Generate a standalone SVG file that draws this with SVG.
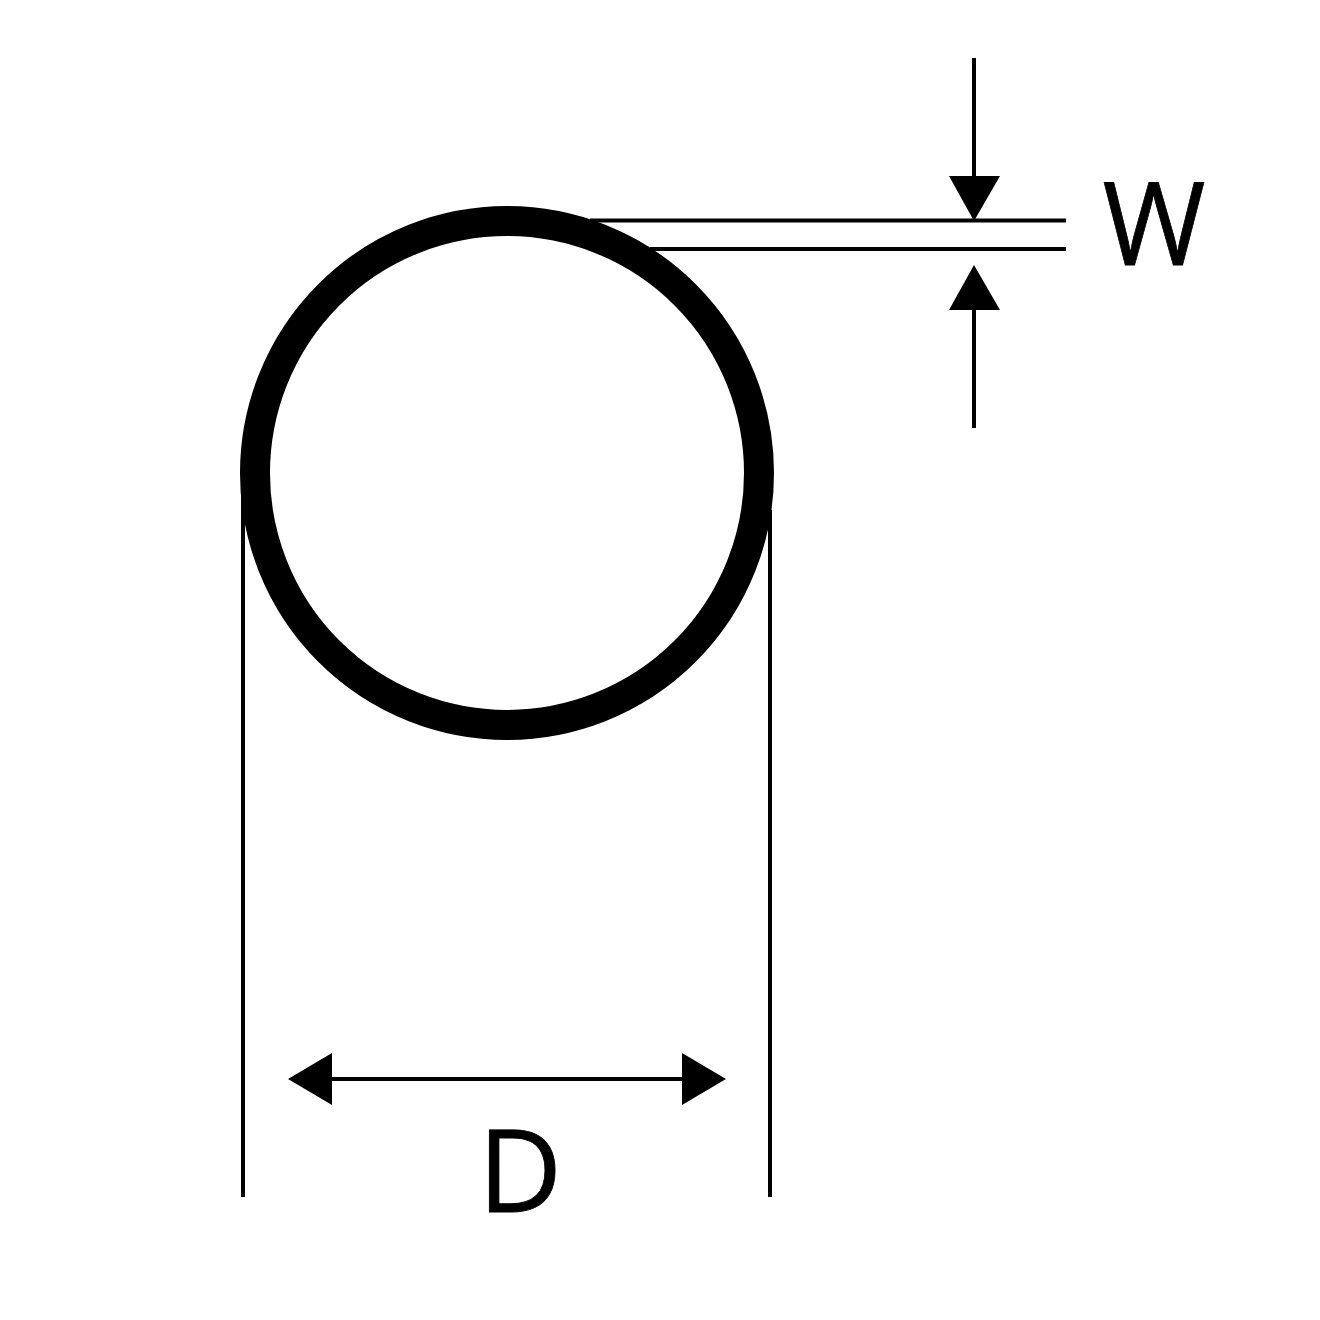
<svg xmlns="http://www.w3.org/2000/svg" width="1320" height="1320" viewBox="0 0 1320 1320">
<style>
.l{stroke:#000;stroke-width:4;fill:none}
.a{fill:#000;stroke:none}
.t{font-family:"Open Sans","Noto Sans",sans-serif;font-size:116px;fill:#000;stroke:#000;stroke-width:.8px}
</style>
<rect width="1320" height="1320" fill="#fff"/>
<g id="ring"><circle cx="507" cy="473" r="252" fill="none" stroke="#000" stroke-width="30"/></g>
<g id="connectors">
<path class="l" d="M590 220.500H1066M650 249H1066M974 58V180M974 306V428M243 490V1197M770 510V1197M330 1079H684"/>
<path class="a" d="M949 176H1000L974 221ZM949 310H1000L974 265ZM288 1079L332 1053V1105ZM726 1079L682 1053V1105Z"/>
</g>
<g id="label-w"><text class="t" x="1154" y="265" text-anchor="middle" textLength="103" lengthAdjust="spacingAndGlyphs">W</text></g>
<g id="label-d"><text class="t" x="520" y="1212" text-anchor="middle">D</text></g>
</svg>
